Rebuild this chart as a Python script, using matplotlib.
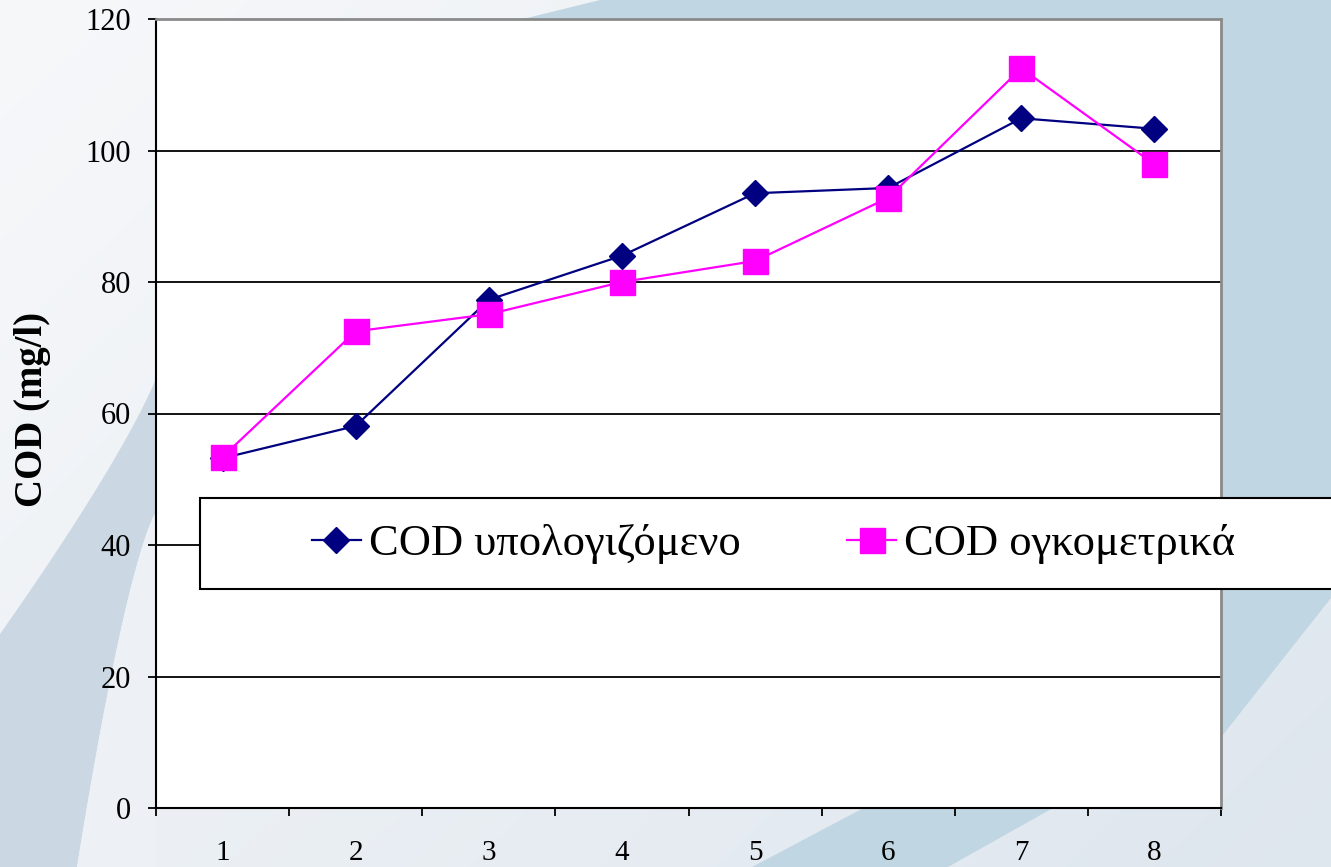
import numpy as np
import matplotlib
matplotlib.use("Agg")
import matplotlib.pyplot as plt
from matplotlib.lines import Line2D
from matplotlib.patches import Rectangle, Polygon

plt.rcParams['font.family'] = ['Liberation Serif', 'DejaVu Serif']

# ---- data ----
samples = [1, 2, 3, 4, 5, 6, 7, 8]
cod_calculated = [53.2, 58.1, 77.3, 84.0, 93.5, 94.3, 104.9, 103.3]
cod_titrimetric = [53.4, 72.5, 75.1, 80.0, 83.2, 92.8, 112.5, 97.9]
series_labels = ["COD υπολογιζόμενο", "COD ογκομετρικά"]
y_ticks = [0, 20, 40, 60, 80, 100, 120]
x_labels = ["1", "2", "3", "4", "5", "6", "7", "8"]

W, H = 1331, 867
fig = plt.figure(figsize=(W / 100, H / 100), dpi=100)


def fx(x):
    return x / W


def fy(y):
    return (H - y) / H


# ---- slide-style background ----
bg = fig.add_axes([0, 0, 1, 1], zorder=0)
bg.set_xlim(0, W)
bg.set_ylim(H, 0)
bg.axis('off')

yy, xx = np.mgrid[0:H, 0:W]
t = np.clip(0.6 * xx / W + 0.4 * yy / H, 0, 1)[..., None]
light = np.array([247, 248, 250]) / 255
mid = np.array([222, 230, 238]) / 255
bg.imshow(light * (1 - t) + mid * t, extent=(0, W, H, 0), aspect='auto', zorder=0)

blue_pts = [(600, 0), (W, 0), (W, 598), (1222, 736), (1053, 808), (948, H),
            (752, H), (873, 803), (523, 19)]
bg.add_patch(Polygon(blue_pts, closed=True, facecolor='#c1d6e3', edgecolor='none', zorder=1))

# curved band on the left edge
s = np.linspace(0, 1, 40)
upper = [(160 - 160 * v, 367 + 267 * v ** 0.85) for v in s]
lower = [(160 - 83 * v ** 0.7, 507 + 360 * v) for v in s]
band = upper + [(0, H)] + lower[::-1]
bg.add_patch(Polygon(band, closed=True, facecolor='#cbd8e3', edgecolor='none', zorder=1))
inner = lower + [(156, H)]
bg.add_patch(Polygon(inner, closed=True, facecolor='#edf1f5', edgecolor='none', zorder=1))

# ---- chart ----
ax = fig.add_axes([fx(156), fy(808), 1065 / W, 789 / H], zorder=1)
ax.set_facecolor('white')

ax.plot(samples, cod_calculated, color='#000080', lw=1.6, marker='D', ms=13.5,
        mfc='#000080', mec='#000080', zorder=3)
ax.plot(samples, cod_titrimetric, color='#ff00ff', lw=1.6, marker='s', ms=18,
        mfc='#ff00ff', mec='#ff00ff', zorder=4)

ax.set_xlim(0.5, 8.5)
ax.set_ylim(0, 120)

ax.set_yticks(y_ticks)
ax.set_yticklabels([str(v) for v in y_ticks])
ax.yaxis.grid(True, color='black', lw=1.3)
ax.set_axisbelow(True)
ax.tick_params(axis='y', direction='out', length=6, width=1.3, pad=12, labelsize=22)

ax.set_xticks(np.arange(0.5, 9.0, 1.0))
ax.set_xticklabels([])
ax.set_xticks(samples, minor=True)
ax.set_xticklabels(x_labels, minor=True)
ax.tick_params(axis='x', which='major', direction='out', length=6, width=1.3)
ax.tick_params(axis='x', which='minor', length=0, pad=23, labelsize=21)

for side in ('left', 'bottom'):
    ax.spines[side].set_color('black')
    ax.spines[side].set_linewidth(1.5)
for side in ('top', 'right'):
    ax.spines[side].set_color('#8a8a8a')
    ax.spines[side].set_linewidth(2.0)

ax.set_ylabel('COD (mg/l)', fontsize=28, fontweight='bold')
ax.yaxis.label.set_va('center')
ax.yaxis.set_label_coords((33 - 156) / 1065, (808 - 409) / 789)

# ---- legend ----
box = Rectangle((fx(200), fy(589)), (W + 20 - 200) / W, 91 / H, transform=fig.transFigure,
                facecolor='white', edgecolor='black', lw=1.5, zorder=5)
fig.add_artist(box)

handles = [
    Line2D([], [], color='#000080', lw=1.6, marker='D', ms=13.5, mfc='#000080', mec='#000080'),
    Line2D([], [], color='#ff00ff', lw=1.6, marker='s', ms=18, mfc='#ff00ff', mec='#ff00ff'),
]
leg = fig.legend(handles, series_labels, loc='center left',
                 bbox_to_anchor=(fx(312), fy(544)), frameon=False, ncol=2,
                 fontsize=32, handlelength=1.1, handletextpad=0.18,
                 columnspacing=2.4, borderpad=0, borderaxespad=0, numpoints=1)
leg.set_zorder(6)

fig.savefig('out.png', dpi=100)
